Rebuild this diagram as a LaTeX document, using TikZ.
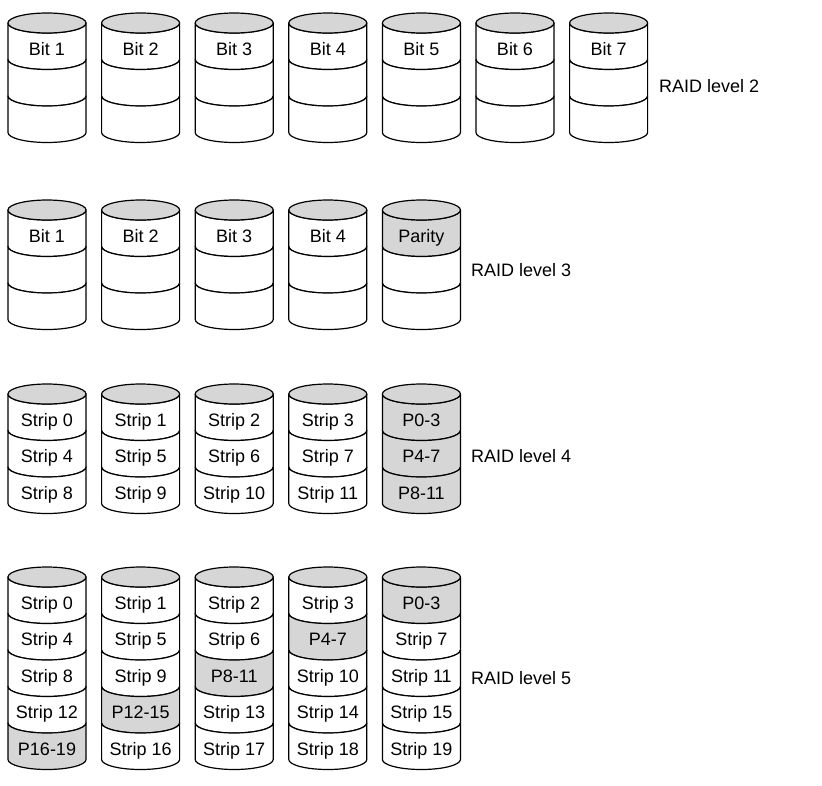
\documentclass[tikz,border=0pt]{standalone}
\usepackage{fontspec}
\setmainfont{Liberation Sans}
\definecolor{diskgray}{HTML}{D6D6D6}
\tikzset{
  disk/.style={draw=black, line width=1.2pt, line join=round},
  lbl/.style={font=\fontsize{18}{20}\selectfont, inner sep=0pt, anchor=base},
  raid/.style={font=\fontsize{18}{20}\selectfont, inner sep=0pt, anchor=base west},
}
% #1 centre x, #2 top-ellipse centre y, #3 band index (1..), #4 fill
\newcommand\band[4]{%
  \pgfmathsetmacro\bya{#2+(#3-1)*36.5}%
  \pgfmathsetmacro\byb{#2+#3*36.5}%
  \filldraw[disk, fill=#4] ({#1-39},\bya) arc[start angle=180,end angle=0,x radius=39,y radius=10]
     -- ({#1+39},\byb) arc[start angle=0,end angle=180,x radius=39,y radius=10] -- cycle;
}
\newcommand\disktop[2]{%
  \filldraw[disk, fill=diskgray] (#1,#2) ellipse[x radius=39, y radius=10];
}
\begin{document}
\begin{tikzpicture}[x=1pt,y=-1pt]
\useasboundingbox (0,0) rectangle (822,785);
% ---------------- RAID level 2
\foreach \i in {1,...,7}{
  \pgfmathsetmacro\cx{47+93.6*(\i-1)}
  \band{\cx}{23}{1}{white}
  \band{\cx}{23}{2}{white}
  \band{\cx}{23}{3}{white}
  \disktop{\cx}{23}
  \node[lbl] (r2b\i) at (\cx,55) {Bit \i};
}
\node[raid] (l2) at (659,92) {RAID level 2};
% ---------------- RAID level 3
\foreach \i in {1,...,5}{
  \pgfmathsetmacro\cx{47+93.6*(\i-1)}
  \ifnum\i=5
    \band{\cx}{210}{1}{diskgray}
  \else
    \band{\cx}{210}{1}{white}
  \fi
  \band{\cx}{210}{2}{white}
  \band{\cx}{210}{3}{white}
  \disktop{\cx}{210}
  \ifnum\i=5
    \node[lbl] (r3b\i) at (\cx,242) {Parity};
  \else
    \node[lbl] (r3b\i) at (\cx,242) {Bit \i};
  \fi
}
\node[raid] (l3) at (471,276.5) {RAID level 3};
% ---------------- RAID level 4
\foreach \j in {0,...,4}{
  \pgfmathsetmacro\cx{47+93.6*\j}
  \foreach \r in {0,1,2}{
    \pgfmathtruncatemacro\k{\r+1}
    \pgfmathsetmacro\by{394+32+36.5*\r}
    \pgfmathtruncatemacro\pa{4*\r}
    \pgfmathtruncatemacro\pb{4*\r+3}
    \pgfmathtruncatemacro\sn{4*\r+\j}
    \ifnum\j=4
      \band{\cx}{394}{\k}{diskgray}
      \node[lbl] (r4-\j-\r) at (\cx,\by) {P\pa-\pb};
    \else
      \band{\cx}{394}{\k}{white}
      \node[lbl] (r4-\j-\r) at (\cx,\by) {Strip \sn};
    \fi
  }
  \disktop{\cx}{394}
}
\node[raid] (l4) at (471,462) {RAID level 4};
% ---------------- RAID level 5
\foreach \j in {0,...,4}{
  \pgfmathsetmacro\cx{47+93.6*\j}
  \foreach \r in {0,...,4}{
    \pgfmathtruncatemacro\k{\r+1}
    \pgfmathtruncatemacro\pc{4-\r}
    \pgfmathsetmacro\by{577+32+36.5*\r}
    \pgfmathtruncatemacro\pa{4*\r}
    \pgfmathtruncatemacro\pb{4*\r+3}
    \pgfmathtruncatemacro\sn{\j<\pc ? 4*\r+\j : 4*\r+\j-1}
    \ifnum\j=\pc
      \band{\cx}{577}{\k}{diskgray}
      \node[lbl] (r5-\j-\r) at (\cx,\by) {P\pa-\pb};
    \else
      \band{\cx}{577}{\k}{white}
      \node[lbl] (r5-\j-\r) at (\cx,\by) {Strip \sn};
    \fi
  }
  \disktop{\cx}{577}
}
\node[raid] (l5) at (471,684) {RAID level 5};
\end{tikzpicture}
\end{document}
